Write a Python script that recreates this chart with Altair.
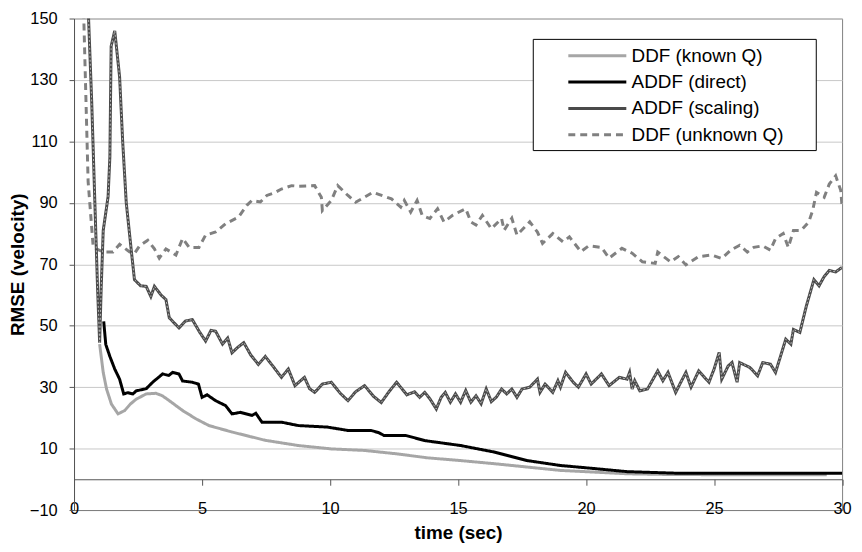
import altair as alt
import pandas as pd

series_names = ["DDF (known Q)", "ADDF (direct)", "ADDF (scaling)", "DDF (unknown Q)"]
series_colors = ["#a6a6a6", "#000000", "#4a4a4a", "#808080"]
series_dash = [[1, 0], [1, 0], [1, 0], [7, 5]]

known_t = [1.0, 1.14, 1.27, 1.46, 1.72, 1.98, 2.2, 2.43, 2.82, 3.2, 3.45, 3.72, 4.24, 4.76, 5.27,
           6.17, 7.47, 8.76, 10.05, 11.35, 12.6, 13.8, 15.1, 16.4, 17.7, 19.0, 20.2, 21.6, 23.0,
           25.0, 27.0, 29.4]
known_v = [44, 34.8, 29.4, 24.5, 21.3, 22.4, 24.5, 26.1, 27.8, 28, 27.2, 25.6, 22.4, 19.7, 17.5,
           15.4, 12.7, 11, 9.9, 9.4, 8.3, 7, 6.1, 5.1, 4, 2.9, 2.4, 1.8, 1.6,
           1.5, 1.5, 1.5]

direct_t = [1.16, 1.24, 1.4, 1.59, 1.78, 1.94, 2.1, 2.3, 2.43, 2.82, 3.07, 3.46, 3.7, 3.85, 4.1,
            4.24, 4.62, 4.86, 5.0, 5.2, 5.53, 5.92, 6.17, 6.5, 6.95, 7.1, 7.34, 8.1, 8.76, 9.9,
            10.7, 11.6, 11.9, 12.1, 12.95, 13.7, 15.1, 16.4, 17.7, 19.0, 20.2, 21.6, 23.5, 25.0,
            27.0, 30.0]
direct_v = [51.4, 43.9, 40, 35.9, 32.6, 27.8, 28.2, 27.8, 28.8, 29.5, 31.6, 34.3, 33.8, 34.8, 34.3,
            32, 31.6, 31, 26.7, 27.5, 25.6, 24, 21.3, 21.8, 20.8, 21.5, 18.6, 18.6, 17.5, 17,
            15.9, 15.9, 15.2, 14.3, 14.3, 12.6, 11, 8.9, 6.1, 4.5, 3.6, 2.5, 2, 2,
            2, 2]

scaling_t = [0.5, 0.69, 0.81, 0.92, 1.0, 1.06, 1.14, 1.33, 1.4, 1.45, 1.59, 1.78, 1.9, 2.04, 2.23,
             2.36, 2.6, 2.82, 3.0, 3.14, 3.4, 3.59, 3.72, 3.9, 4.1, 4.35, 4.62, 4.9, 5.14, 5.35,
             5.53, 5.8, 6.0, 6.17, 6.4, 6.63, 6.9, 7.2, 7.47, 7.8, 8.1, 8.37, 8.63, 9.0, 9.2,
             9.4, 9.7, 10.05, 10.4, 10.7, 11.0, 11.35, 11.7, 12.0, 12.3, 12.6, 13.0, 13.3, 13.5,
             13.7, 13.9, 14.15, 14.34, 14.5, 14.7, 14.9, 15.1, 15.3, 15.5, 15.7, 15.9, 16.1, 16.3,
             16.5, 16.7, 16.9, 17.1, 17.3, 17.5, 17.8, 18.1, 18.2, 18.4, 18.7, 18.9, 19.0, 19.2,
             19.5, 19.7, 20.0, 20.2, 20.6, 20.9, 21.3, 21.6, 21.7, 21.8, 21.9, 22.1, 22.4, 22.8,
             23.0, 23.2, 23.5, 23.7, 23.9, 24.1, 24.4, 24.8, 25.0, 25.2, 25.3, 25.55, 25.7, 25.9,
             26.0, 26.4, 26.7, 26.9, 27.2, 27.4, 27.6, 27.8, 28.0, 28.1, 28.35, 28.6, 28.9, 29.1,
             29.3, 29.5, 29.75, 30.0]
scaling_v = [165, 123, 91, 62, 44.5, 62, 81, 92, 105, 141, 146, 131, 110, 90, 75,
             65, 63, 62.8, 59.5, 62.8, 60, 58.5, 52.6, 51, 49.3, 51.5, 52, 48, 45, 48.5,
             48.2, 44, 46, 41.2, 43, 44.5, 40.5, 37.4, 40, 36.5, 33.2, 35.9, 30.5, 33.2, 29.5,
             28.3, 31, 31.6, 28, 25.6, 28.5, 30.5, 27, 25, 28.5, 31.6, 27.5, 28.5, 26.7,
             28.3, 26.2, 22.9, 26.7, 28.3, 25.1, 27.8, 25.1, 28.9, 25.1, 27.2, 24.6, 29.4, 25.3,
             26.8, 29.4, 27.8, 29.4, 26.7, 29.4, 30, 32.6, 28.3, 31, 28.3, 32.1, 30, 34.8,
             31.6, 30, 34.3, 31, 34.3, 30.5, 33.2, 32.6, 34.8, 29.4, 32.1, 28.8, 29.4, 35.3,
             32.1, 34.8, 28.3, 31.6, 34.8, 30, 35.3, 31.6, 35.9, 41.3, 32.6, 36.9, 38, 31.6,
             38, 36.4, 33.7, 38, 37.5, 34.8, 40.2, 45.6, 44, 48.8, 47.8, 56.3, 65, 63,
             66, 68, 67.5, 69]

unknown_t = [0.35, 0.55, 0.75, 1.14, 1.52, 1.78, 2.17, 2.36, 2.56, 2.88, 3.14, 3.33, 3.59, 3.98,
             4.24, 4.5, 4.88, 5.14, 5.53, 5.92, 6.43, 6.75, 6.95, 7.28, 7.53, 7.86, 8.1, 8.5,
             8.76, 9.4, 9.66, 9.7, 10.05, 10.3, 10.7, 11.0, 11.67, 12.4, 12.76, 12.9, 13.15, 13.4,
             13.6, 13.9, 14.2, 14.45, 14.8, 15.3, 15.5, 15.7, 15.95, 16.3, 16.7, 16.8, 17.1, 17.3,
             17.8, 18.1, 18.3, 18.7, 19.1, 19.35, 19.8, 20.1, 20.6, 20.9, 21.4, 21.8, 22.2, 22.7,
             22.8, 23.3, 23.6, 23.9, 24.4, 24.9, 25.3, 25.65, 26.0, 26.3, 26.55, 26.9, 27.2, 27.4,
             27.7, 27.9, 28.1, 28.4, 28.7, 28.85, 29.0, 29.3, 29.5, 29.75, 29.95, 30.0]
unknown_v = [160, 97, 75.5, 74, 74, 76.5, 74, 73.5, 76, 77.8, 75, 72, 75, 73,
             78.4, 75.5, 75.5, 79.5, 80.5, 83.2, 85.4, 89.2, 90.8, 90.3, 92.4, 93.4, 94.5, 95.6,
             95.4, 95.6, 91.8, 87.5, 90.8, 95.6, 92.4, 90.2, 93.4, 91.3, 88.6, 90.8, 87, 90.8,
             85.9, 84.9, 88.1, 83.8, 86, 88.1, 83.8, 82.8, 85.9, 81.6, 84.9, 81.1, 85, 79.5,
             83.8, 80.5, 76.8, 80, 77.3, 78.9, 74.1, 76, 75.5, 72, 75.2, 73.6, 70.8, 70.3,
             74, 70.8, 72.5, 69.8, 72.5, 73, 71.9, 74.6, 76.2, 74, 75.5, 76, 74.6, 78.4,
             80, 75.5, 81, 81, 83.8, 87.5, 93.4, 91.8, 96.1, 98.8, 94, 88.6]

x_ticks = [0, 5, 10, 15, 20, 25, 30]
y_ticks = [-10, 10, 30, 50, 70, 90, 110, 130, 150]

rows = []
for name, ts, vs in [("DDF (unknown Q)", unknown_t, unknown_v),
                     ("ADDF (scaling)", scaling_t, scaling_v),
                     ("DDF (known Q)", known_t, known_v),
                     ("ADDF (direct)", direct_t, direct_v)]:
    for i, (t, v) in enumerate(zip(ts, vs)):
        rows.append({"t": t, "v": v, "series": name, "i": i})
df = pd.DataFrame(rows)

FONT = "Liberation Sans"
PAD = "\u00a0" * 5 + "\u200b"

legend = alt.Legend(
    title=None, orient="none", legendX=462, legendY=20.5, direction="vertical",
    fillColor="white", strokeColor="black", padding=5.5, rowPadding=4.5,
    symbolType="M-3,0H3", symbolSize=379, symbolStrokeWidth=3, symbolOffset=48,
    labelOffset=23, labelFontSize=19, labelFont=FONT, labelColor="black", labelLimit=400,
    labelExpr="datum.label + '" + PAD + "'",
)

xenc = alt.X("t:Q", scale=alt.Scale(domain=[0, 30], nice=False, zero=False),
             axis=alt.Axis(values=x_ticks, offset=-31, tickSize=6, labelPadding=23,
                           labelBaseline="middle", labelFlush=False, labelOverlap=False,
                           grid=False, domainColor="#555555", tickColor="#555555",
                           title="time (sec)", titlePadding=7))
yenc = alt.Y("v:Q", scale=alt.Scale(domain=[-10, 150], nice=False, zero=False),
             axis=alt.Axis(values=y_ticks, tickSize=5, labelPadding=12, grid=True,
                           gridColor={"condition": {"test": "datum.value == -10", "value": "#808080"},
                                      "value": "#c8c8c8"},
                           domainColor="#555555", tickColor="#555555",
                           title="RMSE (velocity)", titlePadding=2, labelOverlap=False))

base = alt.Chart(df)

lines = base.mark_line(clip=True, strokeWidth=3).encode(
    x=xenc, y=yenc,
    color=alt.Color("series:N", scale=alt.Scale(domain=series_names, range=series_colors), legend=legend),
    strokeDash=alt.StrokeDash("series:N", scale=alt.Scale(domain=series_names, range=series_dash), legend=legend),
    detail="series:N",
    order="i:Q",
)

texture = base.transform_filter(alt.datum.series == "ADDF (scaling)").mark_line(
    clip=True, strokeWidth=1, color="#b5b5b5", strokeDash=[2, 2]
).encode(x="t:Q", y="v:Q", order="i:Q")

chart = alt.layer(lines, texture).properties(
    width=773.5, height=495,
    autosize=alt.AutoSizeParams(type="none"),
    padding={"left": 66.5, "top": 8.7, "right": 12, "bottom": 34},
).configure_view(
    stroke="#808080", strokeWidth=1
).configure_axis(
    labelFont=FONT, labelFontSize=16.5, labelColor="black",
    titleFont=FONT, titleFontSize=19, titleFontWeight="bold", titleColor="black",
)

chart.save("out.html", embed_options={"renderer": "svg", "actions": False})
